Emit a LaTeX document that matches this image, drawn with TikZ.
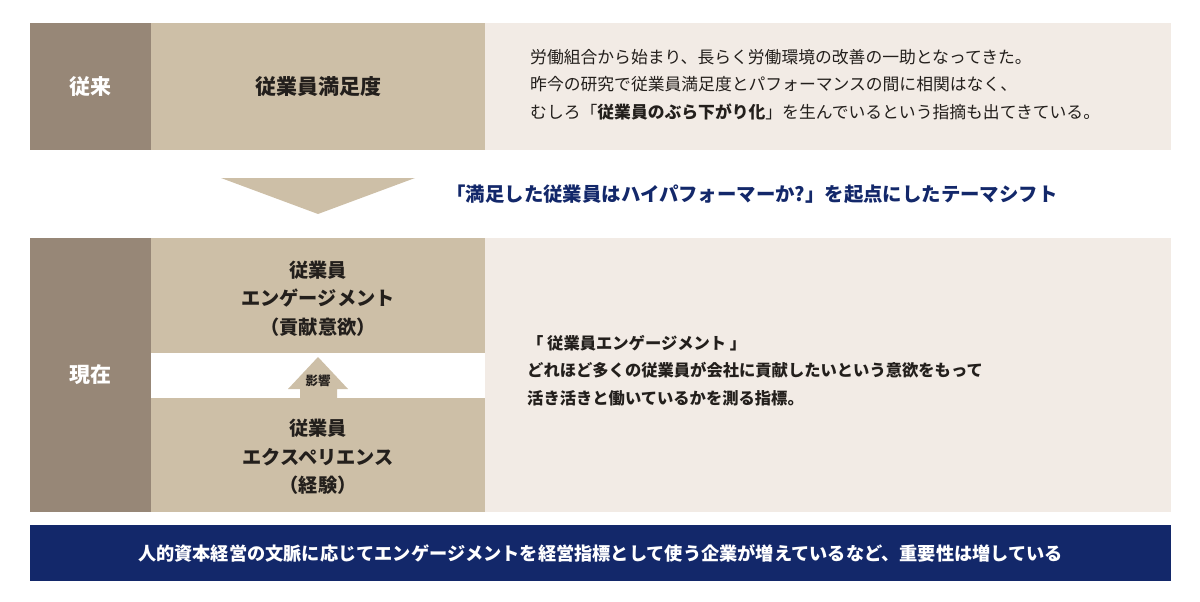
\documentclass[tikz,border=0pt]{standalone}
\usepackage{fontspec}
\setmainfont{Noto Sans CJK JP}

\definecolor{dunbrown}{HTML}{978777}
\definecolor{sandtan}{HTML}{CDBFA7}
\definecolor{paleshell}{HTML}{F2EBE5}
\definecolor{navyband}{HTML}{13286A}
\definecolor{inkgrey}{HTML}{231F1C}

\begin{document}
\begin{tikzpicture}[x=1pt, y=-1pt,
  panel/.style={inner sep=0pt, outer sep=0pt},
  tag/.style={font=\bfseries\fontsize{21}{25}\selectfont, text=white, inner sep=0pt},
  title/.style={font=\bfseries\fontsize{19.2}{28.5}\selectfont, text=inkgrey, align=center, inner sep=0pt},
  note/.style={font=\fontsize{16.8}{27.5}\selectfont, text=inkgrey, align=left, anchor=west, inner sep=0pt}]

\useasboundingbox (0,0) rectangle (1200,602);

\node[panel, fill=dunbrown, minimum width=121pt, minimum height=127pt] (pastcol) at (90.5,86.5) {};
\node[panel, fill=sandtan, minimum width=334pt, minimum height=127pt] (pastmid) at (318,86.5) {};
\node[panel, fill=paleshell, minimum width=686pt, minimum height=127pt] (pastnote) at (828,86.5) {};

\node[tag] (pasttag) at (pastcol) {従来};
\node[title, font=\bfseries\fontsize{21}{25}\selectfont] (satisfy) at (pastmid) {従業員満足度};
\node[note] (pasttext) at (530,84.5) {労働組合から始まり、長らく労働環境の改善の一助となってきた。\\
昨今の研究で従業員満足度とパフォーマンスの間に相関はなく、\\
むしろ「\textbf{従業員のぶら下がり化}」を生んでいるという指摘も出てきている。};

\fill[sandtan] (221,178) -- (415,178) -- (318,214) -- cycle;

\node[font=\bfseries\fontsize{19.4}{22}\selectfont, text=navyband, inner sep=0pt] (shift) at (752,194) {「満足した従業員はハイパフォーマーか?」を起点にしたテーマシフト};

\node[panel, fill=dunbrown, minimum width=121pt, minimum height=274pt] (nowcol) at (90.5,375) {};
\node[panel, fill=sandtan, minimum width=334pt, minimum height=115pt] (engage) at (318,295.5) {};
\node[panel, fill=sandtan, minimum width=334pt, minimum height=114pt] (exper) at (318,455) {};
\node[panel, fill=paleshell, minimum width=686pt, minimum height=274pt] (nownote) at (828,375) {};

\node[tag] (nowtag) at (nowcol) {現在};
\node[title] (engagetext) at (318,298.5) {従業員\\エンゲージメント\\（貢献意欲）};
\node[title] (expertext) at (318,457) {従業員\\エクスペリエンス\\（経験）};

\fill[sandtan] (exper.north -| 300,0) -- (300,389) -- (288,389) -- (318,357) -- (348,389) -- (337,389) -- (exper.north -| 337,0) -- cycle;
\node[font=\bfseries\fontsize{12.5}{14}\selectfont, text=inkgrey, inner sep=0pt] (impact) at (318,381) {影響};

\node[note, font=\bfseries\fontsize{16.3}{27.5}\selectfont] (nowtext) at (527,370.5) {「 従業員エンゲージメント 」\\
どれほど多くの従業員が会社に貢献したいという意欲をもって\\
活き活きと働いているかを測る指標。};

\node[panel, fill=navyband, minimum width=1141pt, minimum height=56pt] (band) at (600.5,553) {};
\node[font=\bfseries\fontsize{18.2}{22}\selectfont, text=white, inner sep=0pt] (bandtext) at (band) {人的資本経営の文脈に応じてエンゲージメントを経営指標として使う企業が増えているなど、重要性は増している};

\end{tikzpicture}
\end{document}
